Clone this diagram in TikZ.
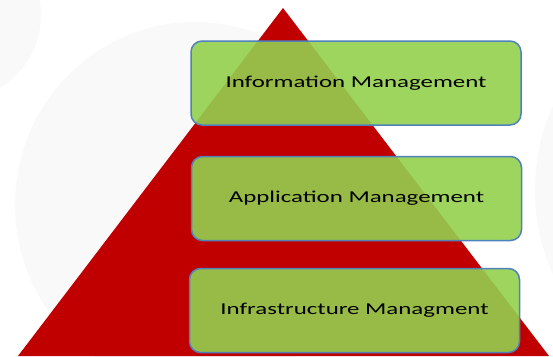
\documentclass[tikz,border=0pt]{standalone}
\usepackage{fontspec}
\newfontfamily\layerfont[FakeStretch=1.5]{Carlito}
\usepackage{tikz}
\usetikzlibrary{positioning}
\definecolor{pyrred}{RGB}{192,0,0}
\definecolor{layergreen}{RGB}{147,208,78}
\definecolor{layerblue}{RGB}{79,129,189}
\definecolor{faintgray}{RGB}{249,249,249}

\begin{document}
\begin{tikzpicture}[x=1pt,y=-1pt,
	layer/.style={draw=layerblue,line width=1.5pt,rounded corners=11pt,fill=layergreen,fill opacity=.9,text opacity=1,
		minimum width=330pt,minimum height=84pt,inner sep=0pt,font=\layerfont\fontsize{16.6}{20}\selectfont}]
			\useasboundingbox (0,0) rectangle (553,356);
			\begin{scope}
			\clip (0,0) rectangle (553,356);
			%faint background
			\fill[faintgray] (195,205) ellipse [x radius=180pt,y radius=183pt];
			\fill[faintgray] (-45,15) circle [radius=86pt];
			\fill[faintgray] (640,190) ellipse [x radius=105pt,y radius=150pt];

			%pyramid
			\coordinate (top) at (283,8);
			\coordinate (baseL) at (18,356);
			\coordinate (baseR) at (549,356);
			\fill[pyrred] (top) -- (baseL) -- (baseR) -- cycle;
			\end{scope}

			%layers
			\node[layer] (info) at (356,83) {Information Management};
			\node[layer] (appl) at (356.5,198.5) {Application Management};
			\node[layer] (infra) at (354.5,310.5) {Infrastructure Managment};
		\end{tikzpicture}
\end{document}
